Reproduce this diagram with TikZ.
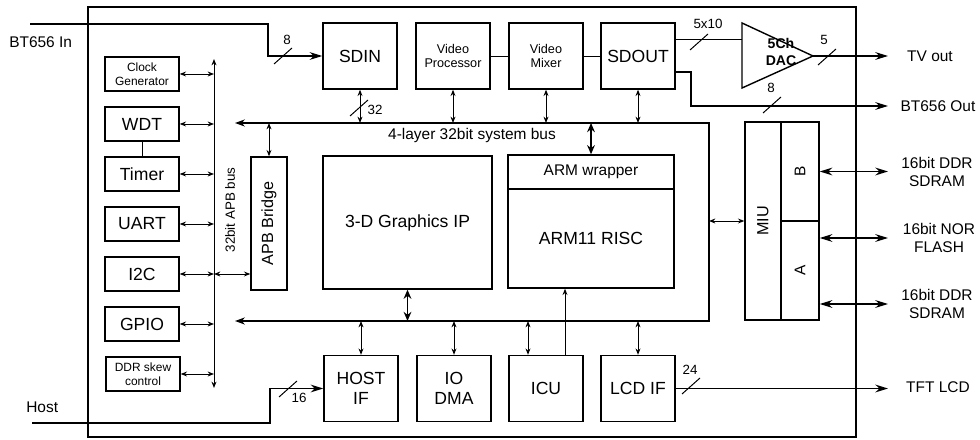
\documentclass[tikz,border=0pt]{standalone}
\usepackage{fontspec}
\setmainfont{Liberation Sans}
\usepackage{graphicx}
\usetikzlibrary{arrows.meta}

\begin{document}
\begin{tikzpicture}[x=0.25mm, y=-0.25mm,
  >={Stealth[length=4.5pt,width=3.5pt]},
  blk/.style={draw, line width=1pt, inner sep=1pt, align=center, font=\fontsize{12.5}{14}\selectfont},
  periph/.style={blk, minimum width=18.5mm, minimum height=8.5mm},
  vid/.style={blk, minimum width=18.5mm, minimum height=16.5mm},
  sig/.style={line width=0.7pt},
  fat/.style={line width=1.3pt, >={Stealth[length=6.5pt,width=5.5pt]}},
  bus/.style={line width=1.5pt, >={Stealth[length=7pt,width=5pt]}},
  ext/.style={line width=1pt, >={Stealth[length=9pt,width=5.5pt]}},
  slash/.style={line width=0.7pt},
  wlbl/.style={font=\fontsize{9.5}{10}\selectfont, inner sep=0pt},
  xlbl/.style={font=\fontsize{11}{12.5}\selectfont, align=center, inner sep=0pt}]
  \useasboundingbox (0,0) rectangle (980,440);

  % Coordinates
  \coordinate (apbtop) at (214,59);
  \coordinate (apbbot) at (214,388);
  \coordinate (bustl) at (235,123);
  \coordinate (bustr) at (709,123);
  \coordinate (busbr) at (709,321);
  \coordinate (busbl) at (235,321);
  \coordinate (dactop) at (742,23);
  \coordinate (dacbot) at (742,88);
  \coordinate (dactip) at (813,56);
  \coordinate (dacin) at (742,39);
  \coordinate (tvend) at (888,56);
  \coordinate (outjog) at (691,72);
  \coordinate (btend) at (888,106);
  \coordinate (instart) at (30,24);
  \coordinate (injog) at (268,24);
  \coordinate (hoststart) at (32,423);
  \coordinate (hostjog) at (270,423);

  % Chip outline
  \draw[line width=1.2pt] (88,7) rectangle (856,437);

  % Blocks
  \node[periph, font=\fontsize{8.5}{10}\selectfont] (clkgen) at (142,74) {Clock\\Generator};
  \node[periph] (wdt) at (142,124) {WDT};
  \node[periph] (timer) at (142,174) {Timer};
  \node[periph] (uart) at (142,224) {UART};
  \node[periph] (itwoc) at (142,274) {I2C};
  \node[periph] (gpio) at (142,324) {GPIO};
  \node[periph, font=\fontsize{8.5}{10}\selectfont] (ddrskew) at (143,374) {DDR skew\\control};
  \node[blk, minimum width=9mm, minimum height=33.25mm, font=\fontsize{11.5}{13}\selectfont] (apbbr) at (269,223.5) {\rotatebox{90}{APB Bridge}};
  \node[vid] (sdin) at (360,56) {SDIN};
  \node[vid, font=\fontsize{9}{10.5}\selectfont] (vproc) at (453,56) {Video\\Processor};
  \node[vid, font=\fontsize{9}{10.5}\selectfont] (vmix) at (546,56) {Video\\Mixer};
  \node[vid] (sdout) at (638,56) {SDOUT};
  \node[blk, minimum width=42.25mm, minimum height=33.25mm] (gfx) at (407.5,222.5) {3-D Graphics IP};
  \node[blk, minimum width=41.5mm, minimum height=8.5mm, font=\fontsize{11}{12}\selectfont] (armwrap) at (591,172) {ARM wrapper};
  \node[blk, minimum width=41.5mm, minimum height=24.75mm] (armrisc) at (591,238.5) {ARM11 RISC};
  \node[vid] (hostif) at (361,388.5) {HOST\\IF};
  \node[vid] (iodma) at (454,388.5) {IO\\DMA};
  \node[vid] (icu) at (546,388.5) {ICU};
  \node[vid] (lcdif) at (638,388.5) {LCD IF};
  \node[blk, minimum width=9mm, minimum height=49.5mm, font=\fontsize{11.5}{13}\selectfont] (miu) at (763,221) {\rotatebox{90}{MIU}};
  \node[blk, minimum width=9.5mm, minimum height=24.75mm, font=\fontsize{11}{12}\selectfont] (miub) at (800,171.5) {\rotatebox{90}{B}};
  \node[blk, minimum width=9.5mm, minimum height=24.75mm, font=\fontsize{11}{12}\selectfont] (miua) at (800,270.5) {\rotatebox{90}{A}};
  \draw[line width=1pt] (dactop) -- (dactip) -- (dacbot) -- cycle;
  \node[font=\bfseries\fontsize{10}{12.5}\selectfont, align=center, inner sep=0pt] (dac) at (781,52) {5Ch\\DAC};

  % Labels
  \node[xlbl, anchor=west] (bt656in) at (9,42) {BT656 In};
  \node[xlbl, anchor=west] (host) at (26,407) {Host};
  \node[xlbl] (tvout) at (930,56) {TV out};
  \node[xlbl] (bt656out) at (938,106) {BT656 Out};
  \node[xlbl] (ddrb) at (937,172) {16bit DDR\\SDRAM};
  \node[xlbl] (norflash) at (939,238) {16bit NOR\\FLASH};
  \node[xlbl] (ddra) at (937,304) {16bit DDR\\SDRAM};
  \node[xlbl] (tftlcd) at (938,387) {TFT LCD};
  \node[font=\fontsize{11}{12}\selectfont] (sysbus) at (472,136) {4-layer 32bit system bus};
  \node[font=\fontsize{9.5}{10}\selectfont] (apbbus) at (230,210) {\rotatebox{90}{32bit APB bus}};

  % APB bus
  \draw[sig,<->] (apbtop) -- (apbbot);
  \draw[sig,<->] (clkgen.east) -- (clkgen.east -| apbtop);
  \draw[sig,<->] (wdt.east) -- (wdt.east -| apbtop);
  \draw[sig,<->] (timer.east) -- (timer.east -| apbtop);
  \draw[sig,<->] (uart.east) -- (uart.east -| apbtop);
  \draw[sig,<->] (itwoc.east) -- (itwoc.east -| apbtop);
  \draw[sig,<->] (gpio.east) -- (gpio.east -| apbtop);
  \draw[sig,<->] (ddrskew.east) -- (ddrskew.east -| apbtop);
  \draw[sig,<->] (itwoc.east -| apbtop) -- (itwoc.east -| apbbr.west);
  \draw[sig] (wdt) -- (timer);

  % System bus
  \draw[bus,<->] (bustl) -- (bustr) -- (busbr) -- (busbl);
  \draw[sig,<->] (sdin.south) -- (sdin.south |- bustl);
  \draw[sig,<->] (vproc.south) -- (vproc.south |- bustl);
  \draw[sig,<->] (vmix.south) -- (vmix.south |- bustl);
  \draw[sig,<->] (sdout.south) -- (sdout.south |- bustl);
  \draw[sig,<->] (apbbr.north) -- (apbbr.north |- bustl);
  \draw[fat,<->] (armwrap.north |- bustl) -- (armwrap.north);
  \draw[fat,<->] (gfx.south) -- (gfx.south |- busbl);
  \draw[sig,<->] (hostif.north) -- (hostif.north |- busbl);
  \draw[sig,<->] (iodma.north) -- (iodma.north |- busbl);
  \draw[sig,<->] ([xshift=-4.5mm]icu.north) -- ([xshift=-4.5mm]icu.north |- busbl);
  \draw[sig,<->] (lcdif.north) -- (lcdif.north |- busbl);
  \draw[sig,->] ([xshift=4.75mm]icu.north) -- ([xshift=4.75mm]icu.north |- armrisc.south);
  \draw[sig,<->] (miu.west -| bustr) -- (miu.west);

  % Video path
  \draw[sig] (vproc) -- (vmix);
  \draw[sig] (vmix) -- (sdout);
  \draw[sig] (sdout.east |- dacin) -- (dacin);

  % Pins
  \draw[ext,->] (instart) -- (injog) |- (sdin.west);
  \draw[ext,->] (hoststart) -- (hostjog) |- (hostif.west);
  \draw[ext,->] (dactip) -- (tvend);
  \draw[ext,->] (sdout.east |- outjog) -- (outjog) |- (btend);
  \draw[ext,<->] (miub.east) -- (miub.east -| tvend);
  \draw[ext,<->] (miua.east |- norflash) -- (norflash -| tvend);
  \draw[ext,<->] (miua.east |- ddra) -- (ddra -| tvend);
  \draw[ext,->] (lcdif.east) -- (lcdif.east -| tvend);

  % Bus widths
  \draw[slash] (274,64) -- ++(18,-16);
  \node[wlbl] (win) at (287,40) {8};
  \draw[slash] (350,116) -- ++(18,-16);
  \node[wlbl] (wsdin) at (375,110) {32};
  \draw[slash] (279,397) -- ++(18,-16);
  \node[wlbl] (whost) at (299,398) {16};
  \draw[slash] (690,50) -- ++(18,-16);
  \node[wlbl] (wdac) at (708,24) {5x10};
  \draw[slash] (818,65) -- ++(18,-16);
  \node[wlbl] (wtv) at (824,40) {5};
  \draw[slash] (763,113) -- ++(18,-16);
  \node[wlbl] (wout) at (771,88) {8};
  \draw[slash] (682,394) -- ++(18,-16);
  \node[wlbl] (wlcd) at (690,370) {24};
\end{tikzpicture}
\end{document}
